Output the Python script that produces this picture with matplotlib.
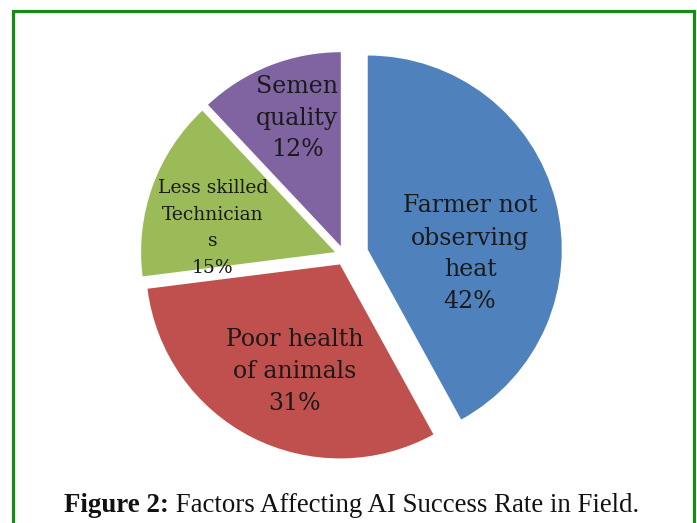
"""Exploded pie of factors affecting AI success rate, with a framed caption."""

import matplotlib
matplotlib.use("Agg")
import matplotlib.pyplot as plt
from matplotlib.patches import Rectangle

W, H = 697, 523

factors = ["Farmer not\nobserving\nheat", "Poor health\nof animals",
           "Less skilled\nTechnician\ns", "Semen\nquality"]
shares = [42, 31, 15, 12]
colors = ["#4F81BD", "#C0504D", "#9BBB59", "#8064A2"]
# pie() offsets wedges by this amount in data units (pixels here)
explode = [24, 10, 10, 10]

# label centres in pixel coords (y measured from the top)
label_xy = [(470, 254), (295, 371), (213, 228), (297, 118)]
label_size = [17, 17, 13.5, 17]
label_spacing = [1.5, 1.5, 1.6, 1.45]

caption_bold = "Figure 2:"
caption_rest = " Factors Affecting AI Success Rate in Field."

fig = plt.figure(figsize=(W / 100, H / 100), dpi=100)
ax = fig.add_axes([0, 0, 1, 1])

ax.pie(shares, colors=colors, explode=explode, startangle=90,
       counterclock=False, center=(344.5, H - 255.5), radius=194,
       wedgeprops=dict(linewidth=0))
ax.set_xlim(0, W)
ax.set_ylim(0, H)
ax.set_aspect("equal")
ax.axis("off")

for name, pct, (x, y), size, ls in zip(factors, shares, label_xy,
                                      label_size, label_spacing):
    ax.text(x, H - y, f"{name}\n{pct}%", ha="center", va="center",
            fontsize=size, family="DejaVu Serif", color="#1a1a1a",
            linespacing=ls)

# green frame, open at the bottom edge of the image
ax.add_patch(Rectangle((13, -20), 681, H - 11 + 20, fill=False,
                       edgecolor="#168C16", linewidth=2.3))

# caption: bold prefix followed by regular text, centred as one line
renderer = fig.canvas.get_renderer()
cap_y = H - 506
bold = ax.text(0, cap_y, caption_bold, fontsize=19.4, fontweight="bold",
               family="Liberation Serif", va="center", color="#111111")
rest = ax.text(0, cap_y, caption_rest, fontsize=19.4,
               family="Liberation Serif", va="center", color="#111111")
wb = bold.get_window_extent(renderer).width
wr = rest.get_window_extent(renderer).width
x0 = 352 - (wb + wr) / 2
bold.set_x(x0)
rest.set_x(x0 + wb)

fig.savefig("out.png", dpi=100)
